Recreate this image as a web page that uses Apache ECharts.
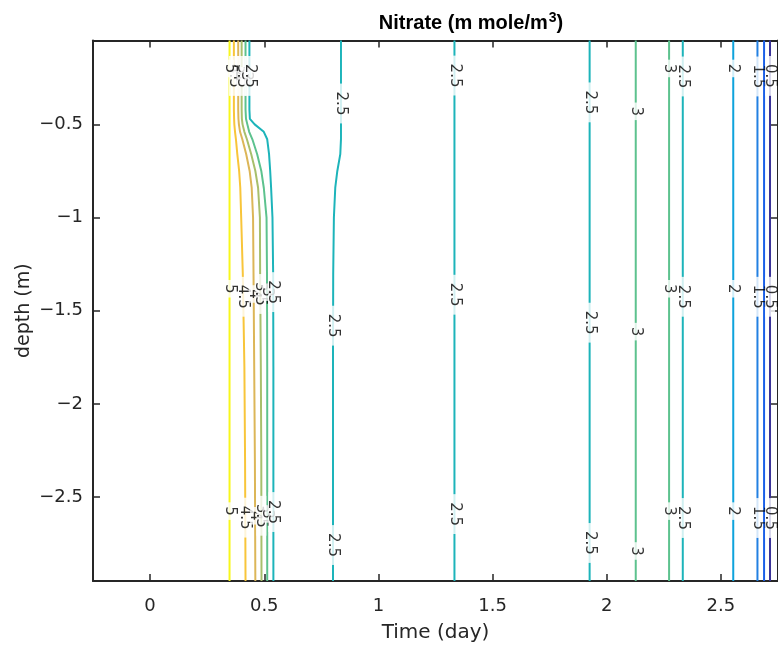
<!DOCTYPE html>
<html><head><meta charset="utf-8">
<script src="https://cdn.jsdelivr.net/npm/echarts@6/dist/echarts.min.js"></script>
<style>html,body{margin:0;padding:0;background:#fff}#c{width:778px;height:648px}</style>
</head><body><div id="c"></div>
<script>
// ---- data ----
const xTicks = [0, 0.5, 1, 1.5, 2, 2.5];
const yTicks = [-2.5, -2, -1.5, -1, -0.5];
const depthGrid = [-0.05, -0.3, -0.42, -0.47, -0.5, -0.54, -0.58, -0.66, -0.75, -0.84, -1.0, -1.3, -1.8, -2.3, -2.95];
// curved contours: time (day) at each depth of depthGrid
const x45  = [0.367, 0.367, 0.367, 0.368, 0.369, 0.372, 0.376, 0.382, 0.390, 0.395, 0.399, 0.406, 0.413, 0.416, 0.418];
const x4   = [0.386, 0.386, 0.386, 0.387, 0.389, 0.394, 0.404, 0.421, 0.436, 0.445, 0.451, 0.453, 0.456, 0.459, 0.461];
const x35  = [0.401, 0.401, 0.401, 0.402, 0.405, 0.413, 0.424, 0.443, 0.461, 0.473, 0.481, 0.482, 0.485, 0.487, 0.488];
const x3   = [0.418, 0.418, 0.418, 0.420, 0.426, 0.434, 0.448, 0.469, 0.487, 0.498, 0.510, 0.512, 0.513, 0.513, 0.513];
const x25a = [0.435, 0.435, 0.435, 0.437, 0.458, 0.498, 0.513, 0.521, 0.526, 0.530, 0.536, 0.539, 0.540, 0.540, 0.540];
const x25b = [0.836, 0.836, 0.836, 0.836, 0.836, 0.836, 0.836, 0.833, 0.820, 0.811, 0.805, 0.802, 0.801, 0.801, 0.801];
const curvedLevels = [4.5, 4, 3.5, 3, 2.5, 2.5];
const curvedX = [x45, x4, x35, x3, x25a, x25b];
const curvedLabelDepths = [
  [-0.24, -1.425, -2.61],
  [-0.24, -1.41, -2.60],
  [-0.24, -1.41, -2.60],
  [-0.24, -1.40, -2.59],
  [-0.24, -1.40, -2.58],
  [-0.388, -1.58, -2.757]
];
// straight (vertical) contours
const straightLevels = [5, 2.5, 2.5, 3, 3, 2.5, 2, 1.5, 1, 0.5];
const straightX = [0.348, 1.333, 1.925, 2.127, 2.273, 2.333, 2.554, 2.660, 2.689, 2.715];
const straightLabelDepths = [
  [-0.2, -1.382, -2.575],
  [-0.238, -1.414, -2.591],
  [-0.382, -1.564, -2.746],
  [-0.43, -1.612, -2.789],
  [-0.2, -1.382, -2.575],
  [-0.243, -1.425, -2.612],
  [-0.2, -1.382, -2.575],
  [-0.243, -1.425, -2.612],
  [],
  [-0.24, -1.425, -2.612]
];

// ---- style ----
const levelColor = {
  5: '#F7F71C', 4.5: '#F8C53A', 4: '#DCB658', 3.5: '#A8BF6C', 3: '#5DC28E',
  2.5: '#1DB4BA', 2: '#0EA3DC', 1.5: '#2380E2', 1: '#1A5FE8', 0.5: '#3B3399'
};
const axisColor = '#262626';
const FONT = 'DejaVu Sans';

function interp(xs, d) {
  for (let i = 0; i < depthGrid.length - 1; i++) {
    const a = depthGrid[i], b = depthGrid[i + 1];
    if (d <= a && d >= b) {
      const t = (d - a) / (b - a);
      return xs[i] + t * (xs[i + 1] - xs[i]);
    }
  }
  return xs[xs.length - 1];
}

const series = [];
const labelItems = [];
function addLabel(level, x, d) {
  const txt = String(level);
  const pad = txt.length === 1 ? 4 : 8;
  labelItems.push({ value: [x, d], name: txt, label: { padding: [0, pad, 0, pad] } });
}
curvedLevels.forEach((lv, k) => {
  const xs = curvedX[k];
  series.push({
    type: 'line', data: depthGrid.map((d, i) => [xs[i], d]), symbol: 'none', silent: true,
    lineStyle: { color: levelColor[lv], width: 2 }, z: 2
  });
  curvedLabelDepths[k].forEach(d => addLabel(lv, interp(xs, d), d));
});
straightLevels.forEach((lv, k) => {
  const x = straightX[k];
  series.push({
    type: 'line', data: [[x, depthGrid[0]], [x, depthGrid[depthGrid.length - 1]]], symbol: 'none', silent: true,
    lineStyle: { color: levelColor[lv], width: 2 }, z: 2
  });
  straightLabelDepths[k].forEach(d => addLabel(lv, x, d));
});
series.push({
  type: 'scatter', data: labelItems, symbolSize: 1, itemStyle: { color: 'rgba(0,0,0,0)' }, silent: true, z: 5,
  label: {
    show: true, position: 'inside', rotate: -90, formatter: '{b}',
    fontFamily: FONT, fontSize: 15, color: '#000', backgroundColor: '#fff', lineHeight: 10
  },
  labelLayout: { hideOverlap: false }
});

const minus = v => String(v).replace('-', '\u2212');
const tickStyle = { color: axisColor, width: 1.5 };

const option = {
  animation: false,
  backgroundColor: '#fff',
  title: {
    text: 'Nitrate (m mole/m{sup|3})', left: 466, textAlign: 'center', top: 6,
    textStyle: {
      fontFamily: 'Liberation Sans', fontWeight: 'bold', fontSize: 20, color: '#000',
      rich: { sup: { fontFamily: 'Liberation Sans', fontWeight: 'bold', fontSize: 14, verticalAlign: 'top', padding: [0, 0, 10, 1] } }
    }
  },
  grid: { left: 93, top: 40.5, width: 690, height: 541.5 },
  xAxis: [{
    type: 'value', min: -0.25, max: 2.75, position: 'bottom',
    name: 'Time (day)', nameLocation: 'middle', nameGap: 42,
    nameTextStyle: { fontFamily: FONT, fontSize: 20, color: axisColor },
    axisLine: { show: true, lineStyle: { color: axisColor, width: 2 } },
    axisTick: { show: true, inside: true, length: 7, customValues: xTicks, lineStyle: tickStyle },
    axisLabel: { customValues: xTicks, fontFamily: FONT, fontSize: 18, color: axisColor, margin: 16 },
    splitLine: { show: false }
  }, {
    type: 'value', min: -0.25, max: 2.75, position: 'top',
    axisLine: { show: true, onZero: false, lineStyle: { color: axisColor, width: 2 } },
    axisTick: { show: true, inside: true, length: 7, customValues: xTicks, lineStyle: tickStyle },
    axisLabel: { show: false }, splitLine: { show: false }
  }],
  yAxis: [{
    type: 'value', min: -2.95, max: -0.05, position: 'left',
    name: 'depth (m)', nameLocation: 'middle', nameGap: 59, nameRotate: 90, nameMoveOverlap: false,
    nameTextStyle: { fontFamily: FONT, fontSize: 19, color: axisColor },
    axisLine: { show: true, onZero: false, lineStyle: { color: axisColor, width: 2 } },
    axisTick: { show: true, inside: true, length: 7, customValues: yTicks, lineStyle: tickStyle },
    axisLabel: { customValues: yTicks, formatter: minus, fontFamily: FONT, fontSize: 18, color: axisColor, margin: 10 },
    splitLine: { show: false }
  }, {
    type: 'value', min: -2.95, max: -0.05, position: 'right',
    axisLine: { show: true, onZero: false, lineStyle: { color: axisColor, width: 2 } },
    axisTick: { show: true, inside: true, length: 7, customValues: yTicks, lineStyle: tickStyle },
    axisLabel: { show: false }, splitLine: { show: false }
  }],
  series: series
};
const chart = echarts.init(document.getElementById('c'));
chart.setOption(option);
</script></body></html>
